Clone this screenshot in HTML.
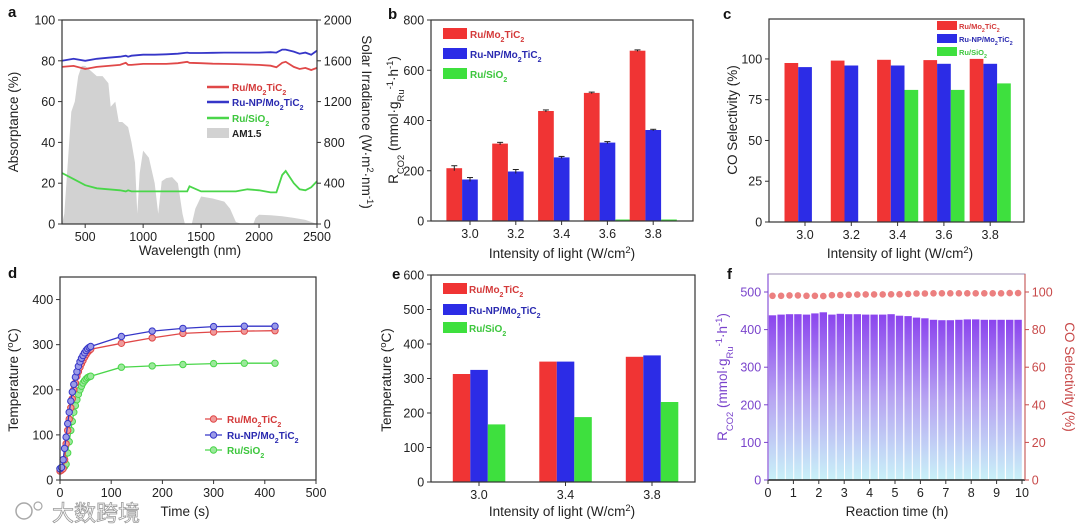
<!DOCTYPE html>
<html><head><meta charset="utf-8"><style>
html,body{margin:0;padding:0;background:#fff;}
svg{display:block;font-family:"Liberation Sans","Noto Sans CJK SC",sans-serif;}
</style></head><body>
<svg id="fig" width="1080" height="529" viewBox="0 0 1080 529" xmlns="http://www.w3.org/2000/svg">
<defs>
<linearGradient id="fgrad" x1="0" y1="0" x2="0" y2="1">
<stop offset="0" stop-color="#8b44ee"/><stop offset="0.5" stop-color="#b7a4f2"/><stop offset="1" stop-color="#c9f1f8"/>
</linearGradient>
</defs>
</svg>
<script>
// ---- data: panel a ----
const aWl = [300,400,500,600,700,800,850,870,900,1000,1100,1200,1300,1380,1400,1500,1600,1700,1800,1900,2000,2100,2150,2200,2230,2300,2350,2400,2450,2500];
const aRed = [77,77.5,76,77,77.5,78,79,78,78,78.5,78.5,78.5,78.8,79.5,79,78.8,78.6,78.5,78.4,78.2,78,77.6,76.8,79,79.5,77,76,76.5,75.5,76.5];
const aBlue = [80,81,80,81,81.5,82,82.5,82,82.5,83,83,83.2,83.5,84,83.8,83.8,83.9,84,84,84,84,84.2,84,85.5,85.5,84.5,83.5,84,83,85];
const aGreen = [25,22,19,17.5,17,16.5,16,16.5,16,16,16,16,16,16,18.5,16,16,16,16,17,16.5,15.5,15.5,24,26,20,17,16.5,18,21];
const amWl = [300,320,350,380,410,440,470,500,550,600,650,700,720,760,790,820,870,900,930,950,970,1000,1050,1100,1130,1160,1200,1250,1300,1340,1360,1420,1450,1500,1550,1600,1700,1750,1800,1850,1950,1970,2000,2100,2200,2300,2400,2500];
const amVal = [0,100,600,1100,1200,1450,1550,1550,1500,1450,1450,1380,1150,1200,1000,1000,950,800,600,100,500,720,650,400,100,420,450,460,400,100,0,0,150,270,260,250,220,150,20,0,0,60,90,85,75,60,40,0];
// ---- panel b ----
const bCats = ["3.0","3.2","3.4","3.6","3.8"];
const bRed = [210,308,438,510,678];
const bBlue = [165,197,253,312,362];
const bGreen = [0,0,1,6,6];
const bRedErr = [10,5,4,3,3];
const bBlueErr = [8,8,4,4,3];
// ---- panel c ----
const cCats = ["3.0","3.2","3.4","3.6","3.8"];
const cRed = [97.5,99,99.5,99.3,100];
const cBlue = [95,96,96,97,97];
const cGreen = [0,0,81,81,85];
// ---- panel d ----
const dTime = [0,3,6,9,12,15,18,21,24,27,30,33,36,39,42,45,48,51,54,57,60,120,180,240,300,360,420];
const dRed = [20,22,25,45,80,110,135,160,180,200,215,230,240,250,258,265,272,278,283,287,290,303,315,325,328,330,331];
const dBlue = [25,28,45,70,95,125,150,175,195,212,228,240,252,262,270,276,282,287,291,294,296,318,330,336,340,341,341];
const dGreen = [25,26,27,30,35,60,85,110,130,150,165,178,190,200,208,215,220,224,227,229,230,250,253,256,258,259,259];
// ---- panel e ----
const eCats = ["3.0","3.4","3.8"];
const eRed = [313,349,363];
const eBlue = [325,349,367];
const eGreen = [167,188,232];
// ---- panel f ----
const fTime = [0.33,0.67,1,1.33,1.67,2,2.33,2.67,3,3.33,3.67,4,4.33,4.67,5,5.33,5.67,6,6.33,6.67,7,7.33,7.67,8,8.33,8.67,9,9.33,9.67,10];
const fRate = [438,440,441,441,440,443,446,440,442,441,441,440,440,440,441,437,436,432,430,426,425,425,426,427,427,426,426,426,426,426];
const fSel = [98,98,98.2,98.2,98,98,97.8,98.3,98.4,98.5,98.6,98.7,98.7,98.7,98.8,98.8,99,99.2,99.2,99.3,99.3,99.3,99.3,99.3,99.3,99.3,99.3,99.3,99.4,99.4];
const yTicksA = [0,20,40,60,80,100];
const yTicksA2 = [0,400,800,1200,1600,2000];
const xTicksA = [500,1000,1500,2000,2500];

const svg = document.getElementById('fig');
const NS = 'http://www.w3.org/2000/svg';
function mk(tag, attrs, parent){
  const el = document.createElementNS(NS, tag);
  for (const k in attrs) el.setAttribute(k, attrs[k]);
  (parent||svg).appendChild(el);
  return el;
}
function nm(el, name){
  
  
  return el;
}
function txt(x,y,s,opt){
  opt = opt||{};
  const t = mk('text',{x:x,y:y,'font-size':opt.fs||12.5,'text-anchor':opt.anchor||'middle',fill:opt.fill||'#222','font-weight':opt.bold?'bold':'normal'});
  if (opt.rot) t.setAttribute('transform','rotate('+opt.rot+' '+x+' '+y+')');
  t.innerHTML = s;
  return t;
}
function lin(d0,d1,r0,r1){ return v => r0 + (v-d0)/(d1-d0)*(r1-r0); }
function frame(x0,x1,y0,y1,name){
  const r = mk('rect',{x:x0,y:y0,width:x1-x0,height:y1-y0,fill:'none',stroke:'#333','stroke-width':1.2});
  nm(r, name);
}
function yTicks(ticks, ys, x, side, name, color){
  ticks.forEach(v=>{
    const y = ys(v);
    const d = side==='left' ? -4 : 4;
    const l = mk('line',{x1:x,x2:x+d,y1:y,y2:y,stroke:color||'#333','stroke-width':1});
    nm(l, name+'-tick');
    const t = txt(x+d*1.7, y+4.5, String(v), {anchor: side==='left'?'end':'start', fill: color||'#222'});
    nm(t, name+'-label');
  });
}
function xTicks(ticks, labels, xs, y, name){
  ticks.forEach((v,i)=>{
    const x = xs(v);
    const l = mk('line',{x1:x,x2:x,y1:y,y2:y+4,stroke:'#333','stroke-width':1});
    nm(l, name+'-tick');
    const t = txt(x, y+17, labels[i]);
    nm(t, name+'-label');
  });
}
const SUB = s => '<tspan baseline-shift="sub" font-size="70%">'+s+'</tspan>';
const SUP = s => '<tspan baseline-shift="super" font-size="70%">'+s+'</tspan>';
const L1 = 'Ru/Mo'+SUB('2')+'TiC'+SUB('2');
const L2 = 'Ru-NP/Mo'+SUB('2')+'TiC'+SUB('2');
const L3 = 'Ru/SiO'+SUB('2');
const RED='#f03434', BLUE='#2c2ce6', GREEN='#3ee03e';
const TRED='#d43a3a', TBLUE='#2a2ab0', TGREEN='#3cc63c';

// panel letters
[['a',8,17],['b',388,19],['c',723,19],['d',8,278],['e',392,279],['f',727,279]].forEach(p=>{
  const t = txt(p[1],p[2],p[0],{fs:15,bold:true,anchor:'start',fill:'#111'});
  nm(t,'panel-label-'+p[0]);
});

// ================= Panel a =================
(function(){
  const x0=62,x1=317,y0=20,y1=224;
  const xs = lin(300,2500,x0,x1), ys = lin(0,100,y1,y0), ys2 = lin(0,2000,y1,y0);
  let d = 'M'+xs(amWl[0])+','+ys2(0);
  amWl.forEach((w,i)=>{ d += ' L'+xs(w).toFixed(1)+','+ys2(amVal[i]).toFixed(1); });
  d += ' L'+xs(2500)+','+ys2(0)+' Z';
  const am = mk('path',{d:d,fill:'#d2d2d2',stroke:'none'});
  nm(am,'am15-spectrum-area');
  [[aRed,'#e04848','absorptance-line-ru-mo2tic2'],[aBlue,'#3636c8','absorptance-line-ru-np-mo2tic2'],[aGreen,'#4ad64a','absorptance-line-ru-sio2']].forEach(s=>{
    const pts = aWl.map((w,i)=>xs(w).toFixed(1)+','+ys(s[0][i]).toFixed(1)).join(' ');
    const p = mk('polyline',{points:pts,fill:'none',stroke:s[1],'stroke-width':1.8});
    nm(p, s[2]);
  });
  frame(x0,x1,y0,y1,'panel-a-plot-frame');
  yTicks(yTicksA, ys, x0, 'left', 'a-y-axis');
  yTicks(yTicksA2, ys2, x1, 'right', 'a-y2-axis');
  xTicks(xTicksA, xTicksA.map(String), xs, y1, 'a-x-axis');
  nm(txt(190,255,'Wavelength (nm)',{fs:13.5}),'a-x-axis-title');
  nm(txt(18,122,'Absorptance (%)',{fs:13.5,rot:-90}),'a-y-axis-title');
  nm(txt(362,122,'Solar Irradiance (W·m'+SUP('2')+'·nm'+SUP('-1')+')',{fs:13.5,rot:90}),'a-y2-axis-title');
  [[87,'#e04848',L1,TRED],[102,'#3636c8',L2,TBLUE],[118,'#4ad64a',L3,TGREEN]].forEach((e,i)=>{
    nm(mk('line',{x1:207,x2:229,y1:e[0],y2:e[0],stroke:e[1],'stroke-width':2.5}),'a-legend-swatch');
    nm(txt(232,e[0]+4,e[2],{fs:10,bold:true,anchor:'start',fill:e[3]}),'a-legend-entry');
  });
  nm(mk('rect',{x:207,y:128,width:22,height:10,fill:'#d2d2d2'}),'a-legend-swatch-am15');
  nm(txt(232,137,'AM1.5',{fs:10,bold:true,anchor:'start',fill:'#222'}),'a-legend-entry-am15');
})();

// grouped bar helper
function bars(cats, series, colors, x0,x1,y0,y1, ymax, catCenters, bw, name){
  const ys = lin(0,ymax,y1,y0);
  cats.forEach((c,i)=>{
    const cx = catCenters(i);
    series.forEach((s,j)=>{
      const bx = cx - bw*series.length/2 + j*bw;
      const r = mk('rect',{x:bx.toFixed(1),y:ys(s[i]).toFixed(1),width:bw,height:(y1-ys(s[i])).toFixed(1),fill:colors[j]});
      nm(r, name+'-bar-s'+(j+1)+'-'+c);
    });
  });
  return ys;
}

// ================= Panel b =================
(function(){
  const x0=431,x1=693,y0=20,y1=221;
  const cc = i => 470 + i*45.8;
  const ys = bars(bCats,[bRed,bBlue,bGreen],[RED,BLUE,GREEN],x0,x1,y0,y1,800,cc,15.7,'b');
  bCats.forEach((c,i)=>{
    [[bRed,bRedErr,0],[bBlue,bBlueErr,1]].forEach(s=>{
      const x = cc(i) - 15.7*1.5 + s[2]*15.7 + 7.85;
      const e = mk('line',{x1:x,x2:x,y1:ys(s[0][i]+s[1][i]),y2:ys(s[0][i]-s[1][i]),stroke:'#222','stroke-width':1});
      nm(e,'b-error-bar');
      const cap = mk('line',{x1:x-3,x2:x+3,y1:ys(s[0][i]+s[1][i]),y2:ys(s[0][i]+s[1][i]),stroke:'#222','stroke-width':1});
      nm(cap,'b-error-cap');
    });
  });
  frame(x0,x1,y0,y1,'panel-b-plot-frame');
  yTicks([0,200,400,600,800], ys, x0, 'left', 'b-y-axis');
  xTicks([0,1,2,3,4], bCats, cc, y1, 'b-x-axis');
  nm(txt(562,258,'Intensity of light (W/cm'+SUP('2')+')',{fs:13.5}),'b-x-axis-title');
  nm(txt(398,120,'R'+SUB('CO2')+' (mmol·g'+SUB('Ru')+SUP('-1')+'·h'+SUP('-1')+')',{fs:13.5,rot:-90}),'b-y-axis-title');
  [[28,RED,L1,TRED],[48,BLUE,L2,TBLUE],[68,GREEN,L3,TGREEN]].forEach(e=>{
    nm(mk('rect',{x:443,y:e[0],width:24,height:11,fill:e[1]}),'b-legend-swatch');
    nm(txt(470,e[0]+10,e[2],{fs:10,bold:true,anchor:'start',fill:e[3]}),'b-legend-entry');
  });
})();

// ================= Panel c =================
(function(){
  const x0=769,x1=1024,y0=19,y1=222;
  const cc = i => 805 + i*46.3;
  const ys = bars(cCats,[cRed,cBlue,cGreen],[RED,BLUE,GREEN],x0,x1,y0,y1,124.5,cc,13.7,'c');
  frame(x0,x1,y0,y1,'panel-c-plot-frame');
  yTicks([0,25,50,75,100], ys, x0, 'left', 'c-y-axis');
  xTicks([0,1,2,3,4], cCats, cc, y1, 'c-x-axis');
  nm(txt(900,258,'Intensity of light (W/cm'+SUP('2')+')',{fs:13.5}),'c-x-axis-title');
  nm(txt(737,120,'CO Selectivity (%)',{fs:13.5,rot:-90}),'c-y-axis-title');
  [[21,RED,L1,TRED],[34,BLUE,L2,TBLUE],[47,GREEN,L3,TGREEN]].forEach(e=>{
    nm(mk('rect',{x:937,y:e[0],width:20,height:9,fill:e[1]}),'c-legend-swatch');
    nm(txt(959,e[0]+8,e[2],{fs:7.5,bold:true,anchor:'start',fill:e[3]}),'c-legend-entry');
  });
})();

// ================= Panel d =================
(function(){
  const x0=60,x1=316,y0=277,y1=480;
  const xs = lin(0,500,x0,x1), ys = lin(0,450,y1,y0);
  [[dGreen,'#4ad64a','#9be89b','ru-sio2'],[dRed,'#e04848','#f09a9a','ru-mo2tic2'],[dBlue,'#3636c8','#9a9ae8','ru-np-mo2tic2']].forEach(s=>{
    const pts = dTime.map((t,i)=>xs(t).toFixed(1)+','+ys(s[0][i]).toFixed(1)).join(' ');
    nm(mk('polyline',{points:pts,fill:'none',stroke:s[1],'stroke-width':1.3}),'d-line-'+s[3]);
    dTime.forEach((t,i)=>{
      nm(mk('circle',{cx:xs(t).toFixed(1),cy:ys(s[0][i]).toFixed(1),r:3.2,fill:s[2],stroke:s[1],'stroke-width':1}),'d-point-'+s[3]);
    });
  });
  frame(x0,x1,y0,y1,'panel-d-plot-frame');
  yTicks([0,100,200,300,400], ys, x0, 'left', 'd-y-axis');
  xTicks([0,100,200,300,400,500], ['0','100','200','300','400','500'], xs, y1, 'd-x-axis');
  nm(txt(185,516,'Time (s)',{fs:13.5}),'d-x-axis-title');
  nm(txt(18,380,'Temperature ('+SUP('o')+'C)',{fs:13.5,rot:-90}),'d-y-axis-title');
  [[419,'#e04848','#f09a9a',L1,TRED],[435,'#3636c8','#9a9ae8',L2,TBLUE],[450,'#4ad64a','#9be89b',L3,TGREEN]].forEach(e=>{
    nm(mk('line',{x1:205,x2:222,y1:e[0],y2:e[0],stroke:e[1],'stroke-width':1.3}),'d-legend-line');
    nm(mk('circle',{cx:213.5,cy:e[0],r:3.2,fill:e[2],stroke:e[1]}),'d-legend-marker');
    nm(txt(227,e[0]+4,e[3],{fs:10,bold:true,anchor:'start',fill:e[4]}),'d-legend-entry');
  });
  const w = txt(52,521,'大数跨境',{fs:22,anchor:'start',fill:'#fff'});
  w.setAttribute('stroke','#9a9a9a'); w.setAttribute('stroke-width','0.8');
  nm(w,'watermark');
  nm(mk('circle',{cx:24,cy:511,r:8,fill:'none',stroke:'#a8a8a8','stroke-width':1.5}),'watermark-logo');
  nm(mk('circle',{cx:38,cy:506,r:4,fill:'none',stroke:'#a8a8a8','stroke-width':1.2}),'watermark-logo-dot');
})();

// ================= Panel e =================
(function(){
  const x0=431,x1=695,y0=275,y1=482;
  const cc = i => 479 + i*86.5;
  const ys = bars(eCats,[eRed,eBlue,eGreen],[RED,BLUE,GREEN],x0,x1,y0,y1,600,cc,17.5,'e');
  frame(x0,x1,y0,y1,'panel-e-plot-frame');
  yTicks([0,100,200,300,400,500,600], ys, x0, 'left', 'e-y-axis');
  xTicks([0,1,2], eCats, cc, y1, 'e-x-axis');
  nm(txt(562,516,'Intensity of light (W/cm'+SUP('2')+')',{fs:13.5}),'e-x-axis-title');
  nm(txt(391,380,'Temperature ('+SUP('o')+'C)',{fs:13.5,rot:-90}),'e-y-axis-title');
  [[283,RED,L1,TRED],[304,BLUE,L2,TBLUE],[322,GREEN,L3,TGREEN]].forEach(e=>{
    nm(mk('rect',{x:443,y:e[0],width:24,height:11,fill:e[1]}),'e-legend-swatch');
    nm(txt(469,e[0]+10,e[2],{fs:10,bold:true,anchor:'start',fill:e[3]}),'e-legend-entry');
  });
})();

// ================= Panel f =================
(function(){
  const x0=768,x1=1025,y0=274,y1=480;
  const xs = lin(0,10,x0,1022), ys = lin(0,500,y1,292), ys2 = lin(0,100,y1,292);
  fTime.forEach((t,i)=>{
    const r = mk('rect',{x:(xs(t)-7.6).toFixed(1),y:ys(fRate[i]).toFixed(1),width:7.4,height:(y1-ys(fRate[i])).toFixed(1),fill:'url(#fgrad)'});
    nm(r,'f-rate-bar');
  });
  fTime.forEach((t,i)=>{
    nm(mk('circle',{cx:(xs(t)-3.9).toFixed(1),cy:ys2(fSel[i]).toFixed(1),r:3.3,fill:'#ec8080'}),'f-selectivity-point');
  });
  const fr = mk('rect',{x:x0,y:y0,width:x1-x0,height:y1-y0,fill:'none',stroke:'#9a8ab0','stroke-width':1});
  nm(fr,'panel-f-plot-frame');
  nm(mk('line',{x1:x0,x2:x1,y1:y1,y2:y1,stroke:'#222','stroke-width':1.4}),'f-x-axis-line');
  nm(mk('line',{x1:x0,x2:x0,y1:y0,y2:y1,stroke:'#8a55d8','stroke-width':1.2}),'f-y-axis-line');
  nm(mk('line',{x1:x1,x2:x1,y1:y0,y2:y1,stroke:'#c86060','stroke-width':1.2}),'f-y2-axis-line');
  yTicks([0,100,200,300,400,500], ys, x0, 'left', 'f-y-axis', '#7a44cc');
  yTicks([0,20,40,60,80,100], ys2, x1, 'right', 'f-y2-axis', '#c84a4a');
  const xt=[0,1,2,3,4,5,6,7,8,9,10];
  xTicks(xt, xt.map(String), xs, y1, 'f-x-axis');
  nm(txt(897,516,'Reaction time (h)',{fs:13.5}),'f-x-axis-title');
  nm(txt(727,377,'R'+SUB('CO2')+' (mmol·g'+SUB('Ru')+SUP('-1')+'·h'+SUP('-1')+')',{fs:13.5,rot:-90,fill:'#7a44cc'}),'f-y-axis-title');
  nm(txt(1065,377,'CO Selectivity (%)',{fs:13.5,rot:90,fill:'#c84a4a'}),'f-y2-axis-title');
})();
</script>
</body></html>
